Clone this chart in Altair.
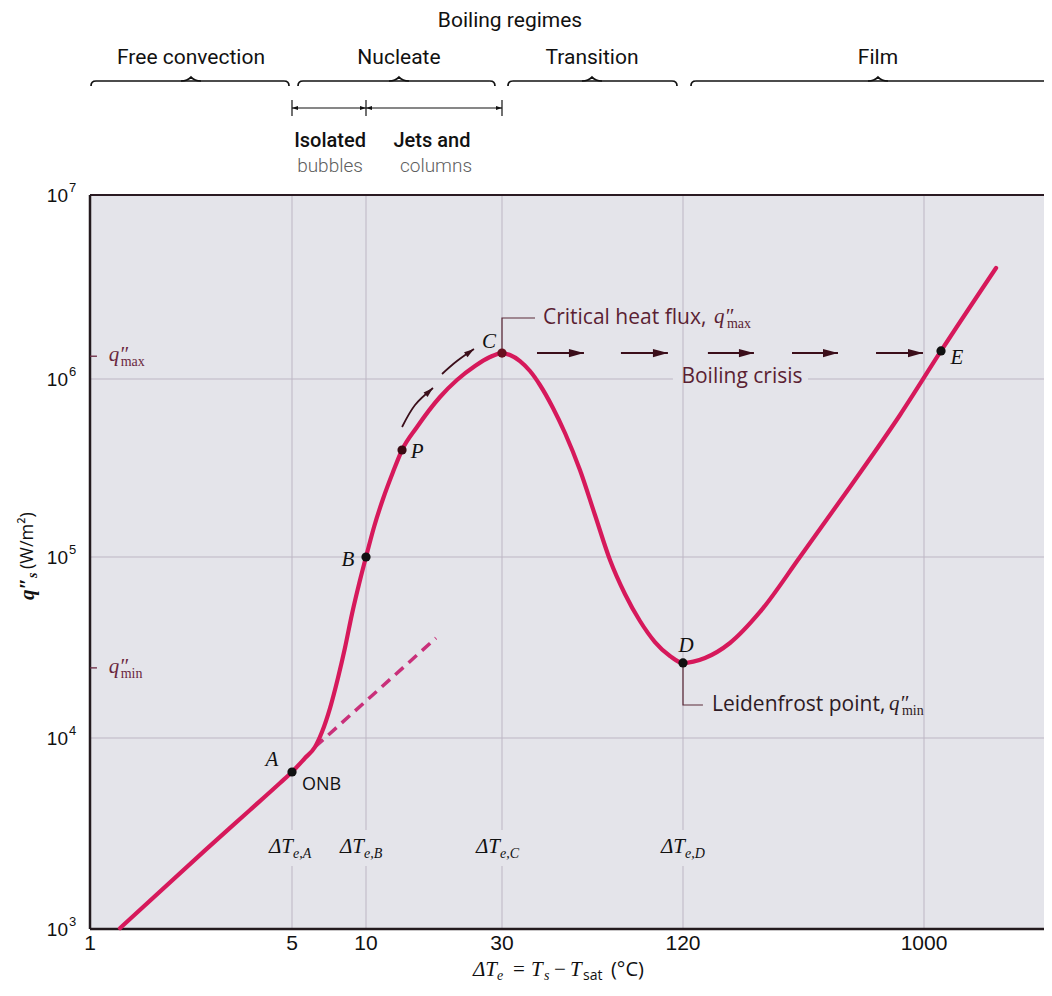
import altair as alt
import pandas as pd

# ---------------- data ----------------
# Boiling curve: excess temperature dT_e (degC) and surface heat flux q''_s (W/m^2)
curve_dT = [1.27, 2.5, 3.579, 4.545, 5.0, 5.65, 6.2, 6.62, 7.14, 7.69,
            8.21, 8.77, 9.37, 10.0, 10.67, 11.47, 12.44, 13.38, 15.1, 18.18,
            20.85, 24.12, 27.22, 30.0, 31.89, 34.43, 37.17, 40.12, 44.33, 48.6,
            54.5, 61.15, 68.6, 76.93, 86.3, 96.8, 108.6, 120.0, 145.6, 181.4,
            236.2, 335.8, 521.6, 809.6, 1156, 1848]
curve_q = [1010, 2580, 4198, 5813, 6637, 7859, 8972, 10790, 14640, 21460,
           31420, 48430, 70920, 100000, 147400, 211800, 300300, 399100, 537500, 792400,
           987200, 1177000, 1317000, 1384000, 1350000, 1252000, 1105000, 925300, 687400, 497300,
           308200, 172200, 96250, 62470, 44300, 33910, 28380, 25970, 27670, 33490,
           49690, 100000, 247400, 627900, 1420000, 4012000]

# free-convection extrapolation (dashed)
ext_dT = [6.2, 17.6]
ext_q = [8972, 35680]

# labelled points
pt_names = ["A", "B", "P", "C", "D", "E"]
pt_dT = [5, 10, 13.38, 30, 120, 1156]
pt_q = [6637, 100000, 399100, 1384000, 25970, 1420000]
pt_colors = ["#111111", "#111111", "#3a0a12", "#6a1020", "#111111", "#111111"]
pt_label_dx = [-20, -18, 15, -13, 3, 16]
pt_label_dy = [-12, 3, 2, -11, -17, 7]

x_ticks = [1, 5, 10, 30, 120, 1000]
x_tick_labels = ["1", "5", "10", "30", "120", "1000"]
y_ticks = [1e3, 1e4, 1e5, 1e6, 1e7]
y_tick_base = ["10", "10", "10", "10", "10"]
y_tick_exp = ["3", "4", "5", "6", "7"]
dT_marks = [5, 10, 30, 120]
dT_subs = ["e,A", "e,B", "e,C", "e,D"]
dT_dx = [1, -2, -2, 2]

q_max_level = 1330000
q_min_level = 24400

# boiling-crisis arrows (start, end) at the q''max level
crisis_start = [39.22, 74.6, 149.4, 313.1, 655.7]
crisis_end = [56.2, 106.9, 224.0, 469.2, 991]
crisis_q = 1384000

# curved arrows along the nucleate branch
arrow1_dT = [13.38, 14.86, 17.18]
arrow1_q = [537500, 714300, 890000]
arrow2_dT = [18.48, 20.85, 23.92]
arrow2_q = [1065000, 1252000, 1455000]

# header (regimes) in data coordinates above the plot
regime_names = ["Free convection", "Nucleate", "Transition", "Film"]
regime_center = [2.236, 13.05, 59.76, 667]
brace_lo = [1.049, 5.543, 32.63, 134.5]
brace_hi = [4.692, 27.22, 110.3, 2780]

# ---------------- scales ----------------
XS = alt.Scale(type="log", domain=[1, 5, 10, 30, 120, 1000, 2780],
               range=[0, 202, 276, 412, 593, 834, 954], nice=False)
YS = alt.Scale(type="log", domain=[1e3, 1e4, 1e5, 1e6, 1e7],
               range=[734, 543, 362, 184, 0], nice=False)

CURVE = "#d6195b"
DASH = "#c9307a"
GRID = "#bdb6c4"
MAROON = "#5b1f33"
DARK = "#3b0e1a"
AXIS = "#231a1e"
SERIF = "Liberation Serif, serif"
SANS = "Open Sans, sans-serif"
HEAD = "Roboto, sans-serif"
TICKF = "Liberation Sans, sans-serif"


def X(f="x"):
    return alt.X(f"{f}:Q", scale=XS, axis=None)


def Y(f="y"):
    return alt.Y(f"{f}:Q", scale=YS, axis=None)


def txt(rows, **mk):
    df = pd.DataFrame(rows, columns=["x", "y", "t"])
    mk.setdefault("baseline", "middle")
    mk.setdefault("color", "#111111")
    return alt.Chart(df).mark_text(**mk).encode(x=X(), y=Y(), text="t:N")


def rules_h(rows, **mk):
    df = pd.DataFrame(rows, columns=["y", "x", "x2"])
    return alt.Chart(df).mark_rule(**mk).encode(y=Y(), x=X(), x2="x2:Q")


def rules_v(rows, **mk):
    df = pd.DataFrame(rows, columns=["x", "y", "y2"])
    return alt.Chart(df).mark_rule(**mk).encode(x=X(), y=Y(), y2="y2:Q")


def heads(xs, ys, **mk):
    df = pd.DataFrame({"x": xs, "y": ys})
    mk.setdefault("filled", True)
    mk.setdefault("opacity", 1)
    return alt.Chart(df).mark_point(**mk).encode(x=X(), y=Y())


layers = []

# ---- grid (broken around labels) ----
gv_rows = []
for v in dT_marks:
    gv_rows.append((v, 1e3, 2137))
    gv_rows.append((v, 3298, 1e7))
gv_rows.append((1000, 1e3, 1e7))
layers.append(rules_v(gv_rows, color=GRID, strokeWidth=1))
layers.append(rules_h([(1e4, 1, 2780), (1e5, 1, 2780), (1e6, 1, 111.1), (1e6, 360.4, 2780)],
                      color=GRID, strokeWidth=1))

# ---- frame / axes ----
layers.append(rules_h([(1e7, 1, 2780)], color="#2a1a22", strokeWidth=2))
layers.append(rules_h([(1e3, 1, 2780)], color=AXIS, strokeWidth=2.5))
layers.append(rules_v([(1, 1e3, 1e7)], color=AXIS, strokeWidth=2.5))
layers.append(txt([(v, 1e3, s) for v, s in zip(x_ticks, x_tick_labels)],
                  font=TICKF, fontSize=21, align="center", dy=15))
layers.append(txt([(1, v, s) for v, s in zip(y_ticks, y_tick_base)],
                  font=TICKF, fontSize=19, align="right", dx=-22, dy=1))
layers.append(txt([(1, v, s) for v, s in zip(y_ticks, y_tick_exp)],
                  font=TICKF, fontSize=13, align="left", dx=-21, dy=-7))

# ---- dashed extension ----
layers.append(alt.Chart(pd.DataFrame({"x": ext_dT, "y": ext_q})).mark_line(
    color=DASH, strokeWidth=3.5, strokeDash=[11, 7]).encode(x=X(), y=Y()))

# ---- main curve ----
curve_df = pd.DataFrame({"x": curve_dT, "y": curve_q, "i": list(range(len(curve_dT)))})
layers.append(alt.Chart(curve_df).mark_line(
    color=CURVE, strokeWidth=4.2, interpolate="monotone", strokeCap="round").encode(
    x=X(), y=Y(), order="i:Q"))

# ---- leader lines ----
lead = pd.DataFrame({
    "x": [30, 30, 38.63, 120, 120, 143.0],
    "y": [1384000, 2145000, 2145000, 25970, 15220, 15220],
    "g": ["c", "c", "c", "d", "d", "d"],
    "o": [0, 1, 2, 0, 1, 2]})
layers.append(alt.Chart(lead).mark_line(color="#5a2a38", strokeWidth=1.2).encode(
    x=X(), y=Y(), detail="g:N", order="o:Q"))

# small ticks for q''max / q''min on the y axis
layers.append(rules_h([(q_max_level, 1, 1.057), (q_min_level, 1, 1.057)],
                      color="#6b2840", strokeWidth=1.3))

# ---- boiling-crisis arrows ----
layers.append(rules_h([(crisis_q, a, b) for a, b in zip(crisis_start, crisis_end)],
                      color=DARK, strokeWidth=2))
layers.append(heads(crisis_end, [crisis_q] * len(crisis_end),
                    shape="M0,0L-2,-0.55L-2,0.55Z", size=225, color=DARK, strokeWidth=0))

# curved arrows
arr = pd.DataFrame({"x": arrow1_dT + arrow2_dT, "y": arrow1_q + arrow2_q,
                    "g": ["a"] * 3 + ["b"] * 3, "o": [0, 1, 2] * 2})
layers.append(alt.Chart(arr).mark_line(color=DARK, strokeWidth=1.8, interpolate="cardinal").encode(
    x=X(), y=Y(), detail="g:N", order="o:Q"))
layers.append(heads([arrow1_dT[-1]], [arrow1_q[-1]], shape="M0,0L-2,-0.6L-2,0.6Z", size=100,
                    color=DARK, strokeWidth=0, angle=318))
layers.append(heads([arrow2_dT[-1]], [arrow2_q[-1]], shape="M0,0L-2,-0.6L-2,0.6Z", size=100,
                    color=DARK, strokeWidth=0, angle=325))

# ---- points ----
pts = pd.DataFrame({"x": pt_dT, "y": pt_q, "c": pt_colors})
layers.append(alt.Chart(pts).mark_circle(size=85, opacity=1).encode(
    x=X(), y=Y(), color=alt.Color("c:N", scale=None)))

# ---- point labels ----
for x, y, n, dx, dy in zip(pt_dT, pt_q, pt_names, pt_label_dx, pt_label_dy):
    layers.append(txt([(x, y, n)], font=SERIF, fontSize=21, fontStyle="italic",
                      align="center", dx=dx, dy=dy))
layers.append(txt([(pt_dT[0], pt_q[0], "ONB")], font=SANS, fontSize=18, align="left", dx=10, dy=13))

# dT_e labels
for v, s, d in zip(dT_marks, dT_subs, dT_dx):
    layers.append(txt([(v, 2690, "\u0394T")], font=SERIF, fontSize=21, fontStyle="italic",
                      align="right", dx=d))
    layers.append(txt([(v, 2690, s)], font=SERIF, fontSize=14, fontStyle="italic",
                      align="left", dx=d, dy=7))

# critical heat flux / Leidenfrost / boiling crisis
CH = (41.06, 2145000)
LF = (154.8, 15220)
layers.append(txt([(CH[0], CH[1], "Critical heat flux,")], font=SANS, fontSize=21,
                  color=MAROON, align="left"))
layers.append(txt([(CH[0], CH[1], "q\u2033")], font=SERIF, fontSize=21, fontStyle="italic",
                  color=MAROON, align="left", dx=171, dy=-1))
layers.append(txt([(CH[0], CH[1], "max")], font=SERIF, fontSize=14, color=MAROON,
                  align="left", dx=184, dy=6))
layers.append(txt([(LF[0], LF[1], "Leidenfrost point,")], font=SANS, fontSize=21,
                  color="#2e1a24", align="left"))
layers.append(txt([(LF[0], LF[1], "q\u2033")], font=SERIF, fontSize=21, fontStyle="italic",
                  color="#2e1a24", align="left", dx=177, dy=-1))
layers.append(txt([(LF[0], LF[1], "min")], font=SERIF, fontSize=14, color="#2e1a24",
                  align="left", dx=190, dy=6))
layers.append(txt([(201.6, 1025000, "Boiling crisis")], font=SANS, fontSize=21,
                  color=MAROON, align="center"))

# q''max / q''min labels on the y axis
for lvl in (q_max_level, q_min_level):
    layers.append(txt([(1.16, lvl, "q\u2033")], font=SERIF, fontSize=21, fontStyle="italic",
                      color="#6b2840", align="left", dy=-1))
layers.append(txt([(1.16, q_max_level, "max")], font=SERIF, fontSize=14, color="#6b2840",
                  align="left", dx=12, dy=6))
layers.append(txt([(1.16, q_min_level, "min")], font=SERIF, fontSize=14, color="#6b2840",
                  align="left", dx=12, dy=6))

# y-axis title (rotated; dx/dy act in the text's own frame)
YTX, YTY = 0.61, 76560
layers.append(txt([(YTX, YTY, "q\u2033")], font=SERIF, fontSize=21, fontStyle="italic",
                  fontWeight="bold", align="right", angle=270))
layers.append(txt([(YTX, YTY, "s")], font=SERIF, fontSize=14, fontStyle="italic",
                  fontWeight="bold", align="left", angle=270, dx=0, dy=5))
layers.append(txt([(YTX, YTY, "(W/m\u00b2)")], font=SANS, fontSize=18, align="left",
                  angle=270, dx=9))

# x-axis title pieces
XT, YT = 23.73, 610
for s, d in [("\u0394T", 0), ("T", 58), ("T", 97)]:
    layers.append(txt([(XT, YT, s)], font=SERIF, fontSize=21, fontStyle="italic",
                      align="left", dx=d))
for s, d in [("=", 40), ("\u2212", 81)]:
    layers.append(txt([(XT, YT, s)], font=SERIF, fontSize=21, align="left", dx=d))
for s, d in [("e", 24), ("s", 71)]:
    layers.append(txt([(XT, YT, s)], font=SERIF, fontSize=14, fontStyle="italic",
                      align="left", dx=d, dy=6))
layers.append(txt([(XT, YT, "sat")], font=SANS, fontSize=14, align="left", dx=110, dy=6))
layers.append(txt([(XT, YT, "(\u00b0C)")], font=SANS, fontSize=20, align="left", dx=138))

# ---- header: boiling regimes ----
layers.append(txt([(31.9, 8.825e7, "Boiling regimes")], font=HEAD, fontSize=21, align="center"))
layers.append(txt([(c, 5.56e7, n) for c, n in zip(regime_center, regime_names)],
                  font=HEAD, fontSize=21, align="center"))
BR_Y = 4.165e7
layers.append(rules_h([(BR_Y, a, b) for a, b in zip(brace_lo, brace_hi)],
                      color="#111111", strokeWidth=1.7))
layers.append(heads(regime_center, [BR_Y] * 4, shape="M-2,0Q-0.7,0,0,-0.8Q0.7,0,2,0",
                    size=100, filled=False, color="#111111", strokeWidth=1.7))
layers.append(heads(brace_lo, [BR_Y] * 4, shape="M0,0Q-1,0,-1,1", size=100, filled=False,
                    color="#111111", strokeWidth=1.7))
layers.append(heads(brace_hi[:3], [BR_Y] * 3, shape="M0,0Q1,0,1,1", size=100, filled=False,
                    color="#111111", strokeWidth=1.7))

# nucleate sub-ranges
SUB_Y = 2.971e7
layers.append(rules_h([(SUB_Y, 5, 10), (SUB_Y, 10, 30)], color="#111111", strokeWidth=1.2))
layers.append(rules_v([(5, 3.28e7, 2.69e7), (10, 3.28e7, 2.69e7), (30, 3.28e7, 2.69e7)],
                      color="#111111", strokeWidth=1.2))
layers.append(heads([10, 30], [SUB_Y, SUB_Y], shape="M0,0L-2,-0.7L-2,0.7Z", size=36,
                    color="#111111", strokeWidth=0))
layers.append(heads([5, 10], [SUB_Y, SUB_Y], shape="M0,0L-2,-0.7L-2,0.7Z", size=36,
                    color="#111111", strokeWidth=0, angle=180))
layers.append(txt([(7.14, 1.966e7, "Isolated"), (17.04, 1.966e7, "Jets and")],
                  font=HEAD, fontSize=20, fontWeight=500, align="center"))
layers.append(txt([(7.14, 1.438e7, "bubbles"), (17.60, 1.438e7, "columns")],
                  font=HEAD, fontSize=19, fontWeight=300, color="#5e5e5e", align="center"))

chart = alt.layer(*layers).properties(
    width=954, height=734,
    autosize=alt.AutoSizeParams(type="none"),
    padding={"left": 82, "top": 187, "right": 0, "bottom": 60},
    background="white",
).configure_view(fill="#e4e4ea", stroke="transparent")

chart.save("out.html", embed_options={"renderer": "svg", "actions": False})
